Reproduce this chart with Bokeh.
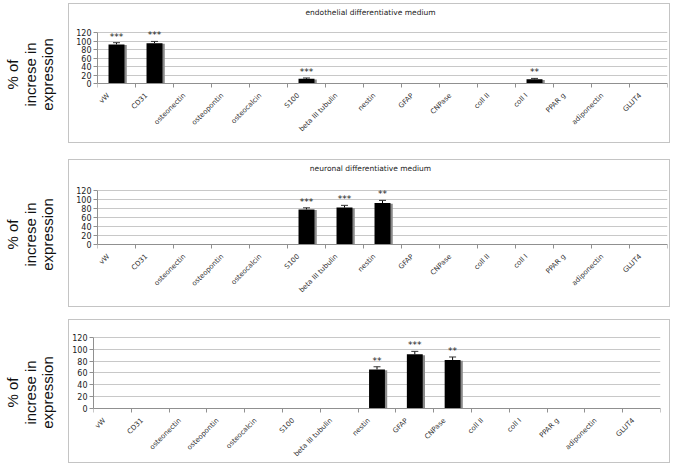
import numpy as np
from bokeh.plotting import figure
from bokeh.models import Range1d, FixedTicker, ColumnDataSource, Whisker, TeeHead, Spacer
from bokeh.layouts import column, row
from bokeh.embed import file_html
from bokeh.resources import INLINE
from bokeh.core.properties import value

categories = ["vW", "CD31", "osteonectin", "osteopontin", "osteocalcin", "S100",
              "beta III tubulin", "nestin", "GFAP", "CNPase", "coll II", "coll I",
              "PPAR g", "adiponectin", "GLUT4"]

endothelial_values = [92, 95, 0, 0, 0, 11, 0, 0, 0, 0, 0, 10, 0, 0, 0]
endothelial_errors = [4, 4, 0, 0, 0, 2, 0, 0, 0, 0, 0, 2, 0, 0, 0]
endothelial_sig = ["***", "***", "", "", "", "***", "", "", "", "", "", "**", "", "", ""]

neuronal_values = [0, 0, 0, 0, 0, 78, 82, 92, 0, 0, 0, 0, 0, 0, 0]
neuronal_errors = [0, 0, 0, 0, 0, 3.5, 5, 6, 0, 0, 0, 0, 0, 0, 0]
neuronal_sig = ["", "", "", "", "", "***", "***", "**", "", "", "", "", "", "", ""]

glial_values = [0, 0, 0, 0, 0, 0, 0, 66, 91.5, 82, 0, 0, 0, 0, 0]
glial_errors = [0, 0, 0, 0, 0, 0, 0, 4.5, 5, 5, 0, 0, 0, 0, 0]
glial_sig = ["", "", "", "", "", "", "", "**", "***", "**", "", "", "", "", ""]

y_ticks = [0, 20, 40, 60, 80, 100, 120]
titles = ["endothelial differentiative medium", "neuronal differentiative medium", ""]
y_label_lines = ["% of", "increse in", "expression"]

FONT = "DejaVu Sans"
BOX_W = 604
LABEL_W = 68


def make_panel(vals, errs, sig, title, h, zero_off, ppu, left, right):
    """h: outer box height; zero_off: pixel offset of value 0 from the box top;
    ppu: pixels per unit of the y scale."""
    n = len(categories)
    pos = list(range(1, n + 1))
    inner_h = h - 2
    frame_top = 1
    frame_bottom = 1
    above = (zero_off - 1) - frame_top
    below = (inner_h - frame_top - frame_bottom) - above
    y_end = above / ppu
    y_start = -below / ppu

    src = ColumnDataSource(dict(
        x=pos,
        sx=[p_ + 0.06 for p_ in pos],
        top=vals,
        stop=[max(v - 1.5, 0) for v in vals],
        etop=[v + e for v, e in zip(vals, errs)],
        sig=sig,
        zero=[0] * n,
        cat=categories,
    ))
    p = figure(width=BOX_W - 2, height=inner_h, x_range=Range1d(0.5, n + 0.5),
               y_range=Range1d(y_start, y_end), output_backend="svg",
               toolbar_location=None,
               min_border_top=frame_top, min_border_bottom=frame_bottom,
               min_border_left=left, min_border_right=right)
    p.styles = {"border": "1px solid #c4c4c4"}
    p.outline_line_color = None
    p.xgrid.visible = False
    p.ygrid.ticker = FixedTicker(ticks=y_ticks)
    p.ygrid.grid_line_color = "#c8c8c8"
    p.ygrid.grid_line_width = 1

    p.yaxis.ticker = FixedTicker(ticks=y_ticks)
    p.yaxis.bounds = (y_ticks[0], y_ticks[-1])
    p.yaxis.axis_line_color = "#909090"
    p.yaxis.major_tick_line_color = "#909090"
    p.yaxis.major_tick_out = 4
    p.yaxis.major_tick_in = 0
    p.yaxis.minor_tick_line_color = None
    p.yaxis.major_label_text_font = FONT
    p.yaxis.major_label_text_font_size = "8px"
    p.yaxis.major_label_text_color = "#222222"
    p.yaxis.major_label_standoff = 2

    p.xaxis.fixed_location = 0
    p.xaxis.ticker = FixedTicker(ticks=[], minor_ticks=[i + 0.5 for i in range(0, n + 1)])
    p.xaxis.major_tick_line_color = None
    p.xaxis.minor_tick_line_color = "#909090"
    p.xaxis.minor_tick_out = 4
    p.xaxis.minor_tick_in = 0
    p.xaxis.axis_line_color = "#909090"

    # category labels at 45 degrees under the axis line
    p.text(x="x", y="zero", text="cat", source=src, angle=np.pi / 4,
           text_align="right", text_baseline="middle", x_offset=-8, y_offset=11,
           text_font=value(FONT), text_font_size="7px", text_color="#333333")

    if title:
        p.text(x=[(n + 1) / 2], y=[y_end], text=[title], text_align="center",
               text_baseline="middle", x_offset=-12, y_offset=7,
               text_font=value(FONT), text_font_size="7.5px", text_color="#222222")

    p.vbar(x="sx", top="stop", width=0.42, fill_color="#8a8a8a", line_color=None, source=src)
    p.vbar(x="x", top="top", width=0.42, fill_color="black", line_color=None, source=src)
    p.add_layout(Whisker(source=src, base="x", upper="etop", lower="top",
                         line_color="black", line_width=1,
                         upper_head=TeeHead(size=7, line_color="#333333", line_width=1),
                         lower_head=None))
    p.text(x="x", y="etop", text="sig", source=src, text_align="center",
           text_baseline="bottom", y_offset=-1, text_font=value(FONT),
           text_font_size="9px", text_color="#222222")
    return p


def make_label(h):
    lf = figure(width=LABEL_W, height=h, x_range=Range1d(0, LABEL_W), y_range=Range1d(0, h),
                output_backend="svg", toolbar_location=None, min_border=0,
                x_axis_location=None, y_axis_location=None)
    lf.grid.visible = False
    lf.outline_line_color = None
    lf.text(x=[12, 30, 47], y=[h / 2] * 3, text=y_label_lines, angle=np.pi / 2,
            text_align="center", text_baseline="middle",
            text_font=value("Liberation Sans"), text_font_size="15px",
            text_color="#111111")
    return lf


p1 = make_panel(endothelial_values, endothelial_errors, endothelial_sig, titles[0],
                142, 80, 0.425, 28, 4)
p2 = make_panel(neuronal_values, neuronal_errors, neuronal_sig, titles[1],
                150, 85, 0.45, 28, 4)
p3 = make_panel(glial_values, glial_errors, glial_sig, titles[2],
                146, 89, 0.592, 23, 11)

layout = column(
    Spacer(height=3),
    row(make_label(142), p1),
    Spacer(height=14),
    row(make_label(150), p2),
    Spacer(height=10),
    row(make_label(146), p3),
)

open("out.html", "w").write(file_html(layout, INLINE))
